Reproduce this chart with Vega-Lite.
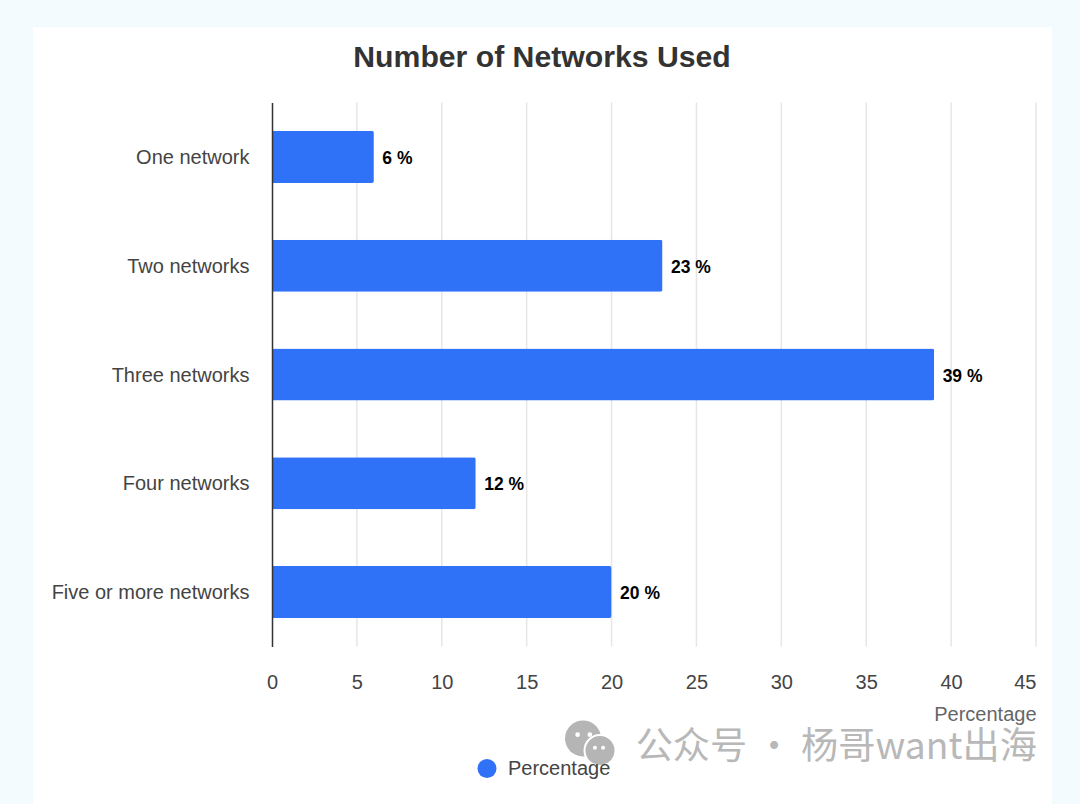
{
"$schema":"https://vega.github.io/schema/vega-lite/v6.json",
"width":764,"height":544,
"autosize":{"type":"none"},
"padding":{"left":272,"top":102.5,"right":44,"bottom":157.5},
"background":"#f3fbff",
"config":{"font":"Liberation Sans","view":{"stroke":null}},
"title":{"text":"Number of Networks Used","fontSize":30.2,"fontWeight":"bold","color":"#333333","anchor":"middle","frame":"group","dx":-112,"offset":-46,"font":"Liberation Sans"},
"layer":[
{"layer":[
 {"data":{"values":[{"item":"card"}]},"mark":{"type":"rect","fill":"#ffffff","clip":false},
  "encoding":{"x":{"datum":-14.08,"type":"quantitative","scale":{"domain":[0,45],"nice":false,"zero":false}},"x2":{"datum":45.94},
  "y":{"datum":1.1385,"type":"quantitative","scale":{"domain":[0,1],"nice":false},"axis":null},"y2":{"datum":-0.3}}},
 {"data":{"values":[{"v":5},{"v":10},{"v":15},{"v":20},{"v":25},{"v":30},{"v":35},{"v":40},{"v":45}]},"mark":{"type":"rule","color":"#e6e6e6","strokeWidth":1.5},
  "encoding":{"x":{"field":"v","type":"quantitative","title":"Percentage"}}}
]},
{"data":{"values":[
 {"networks":"One network","value":6,"label":"6 %","series":"Percentage"},
 {"networks":"Two networks","value":23,"label":"23 %","series":"Percentage"},
 {"networks":"Three networks","value":39,"label":"39 %","series":"Percentage"},
 {"networks":"Four networks","value":12,"label":"12 %","series":"Percentage"},
 {"networks":"Five or more networks","value":20,"label":"20 %","series":"Percentage"}
 ]},
 "encoding":{"y":{"field":"networks","type":"nominal","sort":null,"scale":{"paddingInner":0.522,"paddingOuter":0.261},
   "axis":{"title":null,"ticks":false,"labelFontSize":20,"labelColor":"#444444","labelPadding":23,"labelOffset":1,"domainColor":"#333333","domainWidth":1.5,"zindex":1,"grid":false,"labelLimit":400}},
  "x":{"field":"value","type":"quantitative","scale":{"domain":[0,45],"nice":false},
   "axis":{"title":"Percentage","grid":false,"ticks":false,"domain":false,"values":[0,5,10,15,20,25,30,35,40,45],"labelFontSize":20,"labelColor":"#444444","labelPadding":26,"labelFlush":false,"labelOverlap":false,"labelAlign":{"expr":"datum.value==45?'right':'center'"},"titleFontSize":20,"titleFontWeight":"normal","titleColor":"#666666","titleAnchor":"end","titlePadding":12,"zindex":1}}},
 "layer":[
  {"mark":{"type":"bar","cornerRadiusEnd":2},
   "encoding":{"color":{"field":"series","type":"nominal","scale":{"range":["#2f72f8"]},
    "legend":{"title":null,"orient":"none","legendX":205,"legendY":656,"symbolType":"circle","symbolSize":361,"labelFontSize":20,"labelColor":"#444444","labelOffset":11,"symbolStrokeWidth":0}}}},
  {"mark":{"type":"text","align":"left","dx":8.5,"dy":2,"fontSize":17.5,"fontWeight":"bold","color":"#000000"},
   "encoding":{"text":{"field":"label"}}}
 ]},
{"data":{"values":[{"item":"watermark"}]},
 "layer":[
  {"mark":{"type":"point","filled":true,"shape":"circle","color":"#b5b5b5","opacity":1,"size":1300},"encoding":{"x":{"datum":18.32,"type":"quantitative","title":"Percentage"},"y":{"datum":-0.169,"type":"quantitative","scale":{"domain":[0,1],"nice":false},"axis":null}}},
  {"mark":{"type":"point","filled":true,"shape":"circle","color":"#b5b5b5","opacity":1,"size":960,"stroke":"#ffffff","strokeWidth":2},"encoding":{"x":{"datum":19.32,"type":"quantitative","title":"Percentage"},"y":{"datum":-0.191,"type":"quantitative","scale":{"domain":[0,1],"nice":false},"axis":null}}},
  {"mark":{"type":"point","filled":true,"shape":"circle","color":"#ffffff","opacity":1,"size":22},"encoding":{"x":{"datum":18.0,"type":"quantitative","title":"Percentage"},"y":{"datum":-0.162,"type":"quantitative","scale":{"domain":[0,1],"nice":false},"axis":null}}},
  {"mark":{"type":"point","filled":true,"shape":"circle","color":"#ffffff","opacity":1,"size":22},"encoding":{"x":{"datum":18.72,"type":"quantitative","title":"Percentage"},"y":{"datum":-0.162,"type":"quantitative","scale":{"domain":[0,1],"nice":false},"axis":null}}},
  {"mark":{"type":"point","filled":true,"shape":"circle","color":"#ffffff","opacity":1,"size":16},"encoding":{"x":{"datum":19.02,"type":"quantitative","title":"Percentage"},"y":{"datum":-0.186,"type":"quantitative","scale":{"domain":[0,1],"nice":false},"axis":null}}},
  {"mark":{"type":"point","filled":true,"shape":"circle","color":"#ffffff","opacity":1,"size":16},"encoding":{"x":{"datum":19.5,"type":"quantitative","title":"Percentage"},"y":{"datum":-0.186,"type":"quantitative","scale":{"domain":[0,1],"nice":false},"axis":null}}},
  {"mark":{"type":"text","text":"公众号 · 杨哥want出海","font":"Noto Sans CJK SC","fontSize":37.2,"align":"right","baseline":"middle","color":"#b8b8b8"},"encoding":{"x":{"datum":45.05,"type":"quantitative","title":"Percentage"},"y":{"datum":-0.187,"type":"quantitative","scale":{"domain":[0,1],"nice":false},"axis":null}}}
 ]}
],
"resolve":{"scale":{"y":"independent"}}
}
